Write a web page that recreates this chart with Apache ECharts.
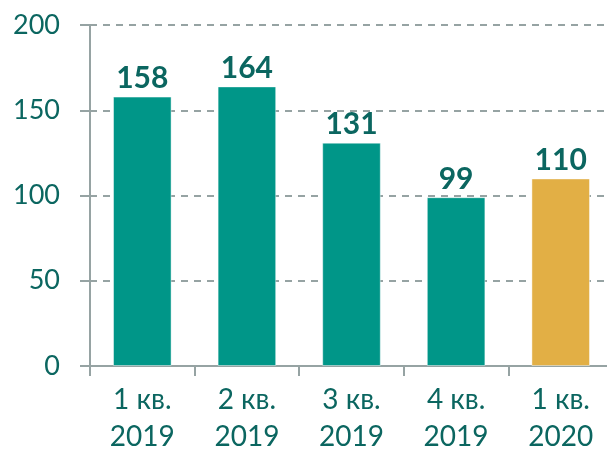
<!DOCTYPE html>
<html>
<head>
<meta charset="utf-8">
<script src="https://cdn.jsdelivr.net/npm/echarts@6/dist/echarts.min.js"></script>
<style>
  html, body { margin: 0; padding: 0; background: #fff; overflow: hidden; }
  #chart { width: 620px; height: 455px; }
</style>
</head>
<body>
<div id="chart"></div>
<script>
// quarters and counts
var categories = ['1 кв.\n2019', '2 кв.\n2019', '3 кв.\n2019', '4 кв.\n2019', '1 кв.\n2020'];
var values = [158, 164, 131, 99, 110];
var barColors = ['#009688', '#009688', '#009688', '#009688', '#E2AF45'];

var textColor = '#0B6660';
var axisColor = '#96A3A3';

var chart = echarts.init(document.getElementById('chart'));

var option = {
  animation: false,
  textStyle: { fontFamily: 'Lato' },
  grid: {
    left: 90,
    top: 25,
    width: 523,
    height: 348
  },
  xAxis: {
    type: 'category',
    data: categories,
    axisLine: { lineStyle: { color: axisColor, width: 2 } },
    axisTick: { show: true, length: 10, lineStyle: { color: axisColor, width: 2 } },
    axisLabel: {
      color: textColor,
      fontSize: 28,
      lineHeight: 37,
      margin: 15,
      fontFamily: 'Lato'
    }
  },
  yAxis: {
    type: 'value',
    min: 0,
    max: 200,
    interval: 50,
    axisLine: { show: true, lineStyle: { color: axisColor, width: 2 } },
    axisTick: { show: true, length: 10, lineStyle: { color: axisColor, width: 2 } },
    axisLabel: {
      color: textColor,
      fontSize: 27,
      margin: 30,
      fontFamily: 'Lato'
    },
    splitLine: {
      show: true,
      lineStyle: { color: axisColor, width: 2, type: [7, 6] }
    }
  },
  series: [{
    type: 'bar',
    barWidth: '56%',
    data: values.map(function (v, i) {
      return { value: v, itemStyle: { color: barColors[i] } };
    }),
    itemStyle: { borderColor: 'rgba(255,255,255,0.45)', borderWidth: 1 },
    label: {
      show: true,
      position: 'top',
      distance: 3,
      color: textColor,
      fontSize: 30,
      fontWeight: 'bold',
      fontFamily: 'Lato'
    }
  }]
};

chart.setOption(option);
</script>
</body>
</html>
